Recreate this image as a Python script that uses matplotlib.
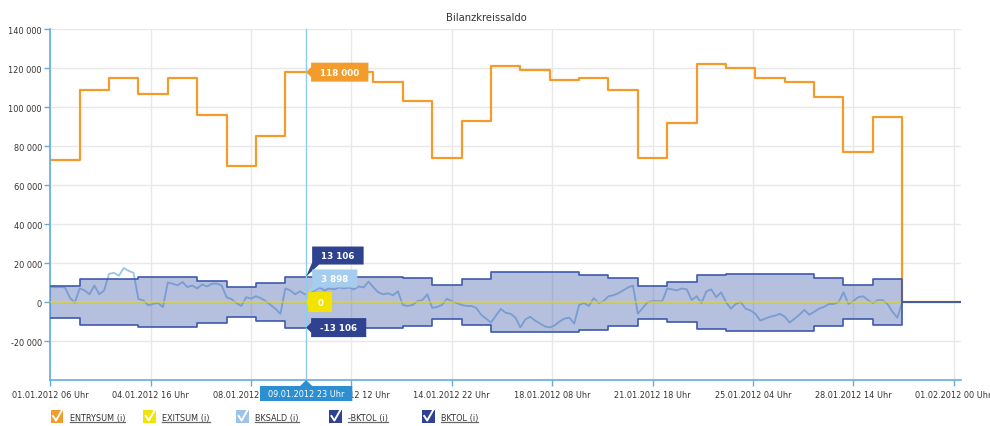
import matplotlib
matplotlib.use("Agg")
import matplotlib.pyplot as plt
import matplotlib.dates as mdates
from matplotlib.patches import Polygon, Rectangle
from matplotlib.lines import Line2D
from datetime import datetime, timedelta

# ---------------- data ----------------
title = "Bilanzkreissaldo"
start = datetime(2012, 1, 1, 6)          # gas day start
n_days = 31

entrysum_daily = [73000, 109000, 115000, 107000, 115000, 96000, 70000, 85000,
                  118000, 118000, 118000, 113000, 103000, 74000, 93000, 121000,
                  119000, 114000, 115000, 109000, 74000, 92000, 122000, 120000,
                  115000, 113000, 105000, 77000, 95000, 0, 0]
exitsum_daily = [0] * n_days
bktol_daily = [8400, 12000, 12000, 12900, 12900, 10900, 7700, 9900,
               13106, 13106, 13106, 13106, 12200, 8800, 11600, 15400,
               15400, 15400, 14100, 12200, 8500, 10200, 14000, 14600,
               14600, 14600, 12100, 8700, 11700, 0, 0]
# BKSALD sampled every 4 hours
bksald_4h = [7800, 7600, 7700, 7500, 2200, -300, 7000, 6000, 4000, 8500, 4000, 6000,
             14500, 15000, 13500, 17500, 16000, 15000, 1500, 900, -1700, -900, -500, -2600,
             10000, 9400, 8600, 10300, 7700, 8500, 7000, 9000, 8000, 9400, 9500, 8500,
             2500, 1500, -500, -2000, 2500, 1800, 3000, 2000, 500, -1500, -3500, -6000,
             7000, 6000, 4000, 5500, 3900, 5000, 6000, 7500, 6000, 7000, 6500, 7500,
             7000, 7500, 6500, 8000, 7500, 10500, 7500, 5000, 4000, 4500, 3500, 5500,
             -1500, -2000, -1500, 500, 1000, 4000, -3000, -2500, -1500, 1700, 500, -500,
             -1500, -2000, -2000, -3000, -6500, -8500, -10500, -7000, -3500, -5500, -6000, -8000,
             -13000, -9000, -7500, -9500, -11000, -12500, -13000, -12000, -10000, -8500, -8000, -11000,
             -1500, -500, -2000, 2000, -500, 500, 3000, 3500, 4500, 6000, 7500, 8500,
             -6000, -3000, 0, 500, 500, 500, 7000, 6500, 6000, 7000, 6500, 1000,
             3000, -500, 5500, 6500, 2500, 5000, 0, -3400, -1000, 0, -3400, -4300,
             -6000, -9500, -8500, -7500, -7000, -6000, -7500, -10500, -8500, -6500, -4000, -6500,
             -5000, -3400, -2500, -1000, -1000, 0, 5000, -1000, 500, 2500, 3000, 1000,
             -500, 1000, 1000, -1000, -5000, -8000, 0, 0, 0, 0, 0, 0,
             0, 0, 0, 0, 0, 0, 0]

xtick_labels = ["01.01.2012 06 Uhr", "04.01.2012 16 Uhr", "08.01.2012 02 Uhr",
                "11.01.2012 12 Uhr", "14.01.2012 22 Uhr", "18.01.2012 08 Uhr",
                "21.01.2012 18 Uhr", "25.01.2012 04 Uhr", "28.01.2012 14 Uhr",
                "01.02.2012 00 Uhr"]
xtick_step_hours = 82
yticks = [-20000, 0, 20000, 40000, 60000, 80000, 100000, 120000, 140000]

legend_labels = ["ENTRYSUM (i)", "EXITSUM (i)", "BKSALD (i)", "-BKTOL (i)", "BKTOL (i)"]

crosshair_time = datetime(2012, 1, 9, 23)
crosshair_label = "09.01.2012 23 Uhr"
tip_entrysum = 118000
tip_bktol = 13106
tip_bksald = 3898
tip_exitsum = 0
tip_negbktol = -13106

# ---------------- style ----------------
C_ORANGE = "#f39c2b"
C_YELLOW = "#f2e400"
C_LBLUE = "#9cc4ea"
C_NAVY = "#2f428f"
C_EDGE = "#3f5aad"
C_FILL = "#4660ad"
C_AXIS = "#62ade0"
C_TEXT = "#333333"
FS = 5.9
FS_TIP = 6.3

W, H = 990, 427
fig = plt.figure(figsize=(W / 100, H / 100), dpi=100)
fig.patch.set_facecolor("white")
L, R, T, B = 50.3, 961.0, 30.3, 381.0
ax = fig.add_axes([L / W, 1 - B / H, (R - L) / W, (B - T) / H])

day_edges = [start + timedelta(days=d) for d in range(n_days + 1)]
def stepvals(v):
    return list(v) + [v[-1]]

bk_times = [start + timedelta(hours=4 * i) for i in range(len(bksald_4h))]

# entry sum and BKSALD under the band
ax.step(day_edges, stepvals(entrysum_daily), where="post", color=C_ORANGE, lw=1.6, zorder=2.05)
ax.plot(bk_times, bksald_4h, color=C_LBLUE, lw=1.3, zorder=2.1)
# band
ax.fill_between(day_edges, [-v for v in stepvals(bktol_daily)], stepvals(bktol_daily),
                step="post", color=C_FILL, alpha=0.4, lw=0, zorder=3)
# exit sum (zero line)
ax.step(day_edges, stepvals(exitsum_daily), where="post", color=C_YELLOW, lw=1.6,
        alpha=0.5, zorder=3.5)
ax.step(day_edges, [-v for v in stepvals(bktol_daily)], where="post", color=C_EDGE, lw=1.2, zorder=4)
ax.step(day_edges, stepvals(bktol_daily), where="post", color=C_EDGE, lw=1.2, zorder=4)

ax.set_xlim(start, start + timedelta(days=n_days))
ax.set_ylim(-40000, 140000)
ax.set_yticks(yticks)
ax.set_yticklabels([f"{v:,}".replace(",", " ") for v in yticks])
xt = [start + timedelta(hours=xtick_step_hours * k) for k in range(len(xtick_labels))]
ax.set_xticks(xt)
ax.set_xticklabels(xtick_labels)

ax.grid(True, color="#e8e8e8", lw=1)
ax.set_axisbelow(True)
for s in ["top", "right"]:
    ax.spines[s].set_visible(False)
for s in ["left", "bottom"]:
    ax.spines[s].set_color(C_AXIS)
    ax.spines[s].set_linewidth(1.2)
ax.tick_params(axis="x", colors=C_AXIS, length=4, width=1, pad=3, labelcolor=C_TEXT, labelsize=FS)
ax.tick_params(axis="y", colors=C_AXIS, length=4, width=1, pad=2, labelcolor=C_TEXT, labelsize=FS)

# crosshair
ax.axvline(crosshair_time, color="#8fcbec", lw=1, zorder=6)

fig.text(486 / W, 1 - 18 / H, title, ha="center", va="center", fontsize=7.2, color=C_TEXT)

renderer = fig.canvas.get_renderer()

def to_fig(x, y):
    return (x / W, 1 - y / H)

def data_px(t, v):
    dx, dy = ax.transData.transform((mdates.date2num(t), v))
    return dx, H - dy

def text_w(s, **kw):
    t = fig.text(0, 0, s, **kw)
    w = t.get_window_extent(renderer).width
    t.remove()
    return w

def callout_left(tx, ty, s, color, bh=19, gap=5, pad=9, tcolor="white"):
    w = text_w(s, fontsize=FS_TIP, fontweight="bold") + 2 * pad
    bl = tx + gap
    br = bl + w
    top, bot = ty - bh / 2, ty + bh / 2
    pts = [(tx, ty), (bl, ty - 5), (bl, top), (br, top), (br, bot), (bl, bot), (bl, ty + 5)]
    fig.add_artist(Polygon([to_fig(*p) for p in pts], closed=True, fc=color, ec="none", zorder=20))
    fig.text(*to_fig((bl + br) / 2, ty), s, ha="center", va="center", fontsize=FS_TIP,
             fontweight="bold", color=tcolor, zorder=21)

def callout_up(tx, ty, cy, s, color, bh=18, gap=6, pad=9, tcolor="white"):
    w = text_w(s, fontsize=FS_TIP, fontweight="bold") + 2 * pad
    bl = tx + gap
    br = bl + w
    top, bot = cy - bh / 2, cy + bh / 2
    pts = [(bl, top), (br, top), (br, bot), (bl + 7, bot), (tx, ty), (bl, bot - 2)]
    fig.add_artist(Polygon([to_fig(*p) for p in pts], closed=True, fc=color, ec="none", zorder=20))
    fig.text(*to_fig((bl + br) / 2, cy), s, ha="center", va="center", fontsize=FS_TIP,
             fontweight="bold", color=tcolor, zorder=21)

def fmt(v):
    return f"{v:,}".replace(",", " ")

cx, y_entry = data_px(crosshair_time, tip_entrysum)
callout_left(cx, y_entry, fmt(tip_entrysum), C_ORANGE)
_, y_bk = data_px(crosshair_time, tip_bktol)
callout_up(cx, y_bk, y_bk - 21, fmt(tip_bktol), C_NAVY)
_, y_sal = data_px(crosshair_time, tip_bksald)
callout_up(cx, y_sal, y_sal - 16, fmt(tip_bksald), "#a6ccee")
_, y_ex = data_px(crosshair_time, tip_exitsum)
callout_left(cx, y_ex, fmt(tip_exitsum), C_YELLOW, bh=20, gap=2)
_, y_nb = data_px(crosshair_time, tip_negbktol)
callout_left(cx, y_nb, fmt(tip_negbktol), C_NAVY, gap=5)

# crosshair date label
lw_ = text_w(crosshair_label, fontsize=FS) + 16
bx0, bx1 = cx - lw_ / 2, cx + lw_ / 2
by0, by1 = B + 6, B + 21
fig.add_artist(Polygon([to_fig(*p) for p in [(bx0, by0), (cx - 6, by0), (cx, B), (cx + 6, by0),
                                              (bx1, by0), (bx1, by1), (bx0, by1)]],
                       closed=True, fc="#2b8fd2", ec="none", zorder=20))
fig.text(*to_fig(cx, (by0 + by1) / 2), crosshair_label, ha="center", va="center",
         fontsize=FS, color="white", zorder=21)

# legend (checkbox style)
leg_colors = [C_ORANGE, C_YELLOW, C_LBLUE, C_NAVY, C_NAVY]
for k, (lab, col) in enumerate(zip(legend_labels, leg_colors)):
    x0 = 50.5 + 92.8 * k
    y0, sz = 410.5, 13
    fig.add_artist(Rectangle(to_fig(x0, y0 + sz), sz / W, sz / H, transform=fig.transFigure,
                             fc=col, ec="none", zorder=20))
    ck = [(x0 + 2.5, y0 + 6.5), (x0 + 5.5, y0 + 11), (x0 + 11.5, y0 + 0.5)]
    fig.add_artist(Line2D([to_fig(*p)[0] for p in ck], [to_fig(*p)[1] for p in ck],
                          transform=fig.transFigure, color="white", lw=1.4, zorder=21))
    tx0 = x0 + 19
    t = fig.text(*to_fig(tx0, 418.3), lab, ha="left", va="center", fontsize=FS,
                 color=C_TEXT, zorder=21)
    tw = t.get_window_extent(renderer).width
    fig.add_artist(Line2D([to_fig(tx0, 0)[0], to_fig(tx0 + tw, 0)[0]],
                          [to_fig(0, 423.3)[1]] * 2, transform=fig.transFigure,
                          color="#666666", lw=0.9, zorder=21))

fig.savefig("out.png", dpi=100, facecolor="white")
